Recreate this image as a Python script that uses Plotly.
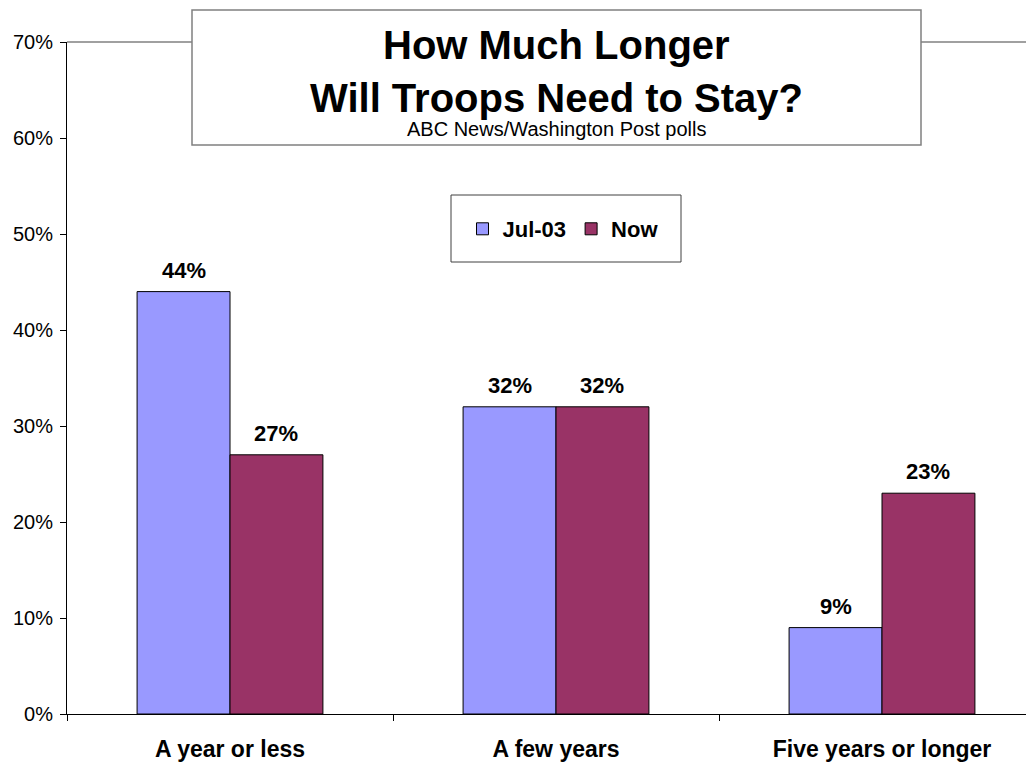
import plotly.graph_objects as go

categories = ["A year or less", "A few years", "Five years or longer"]
series_names = ["Jul-03", "Now"]
jul03_values = [0.44, 0.32, 0.09]
now_values = [0.27, 0.32, 0.23]
y_tick_values = [0, 0.1, 0.2, 0.3, 0.4, 0.5, 0.6, 0.7]
title_line1 = "How Much Longer"
title_line2 = "Will Troops Need to Stay?"
subtitle = "ABC News/Washington Post polls"

colors = ["#9999FF", "#993366"]
FONT = "Liberation Sans, Arial, sans-serif"

# page body offset of 8px is compensated: screen coords -> figure coords
OFF = 8
W, H = 1034 - OFF, 762 - OFF
L, R, T, B = 67 - OFF, 0, 42 - OFF, 762 - 714
pw = W - L - R
ph = H - T - B
CAT_W = 326.0
BAR_GAP = 0.43
bar_w = CAT_W * (1 - BAR_GAP) / 2


def px(x):
    return (x - OFF - L) / pw


def py(y):
    return (H - B - (y - OFF)) / ph


fig = go.Figure()
all_series = [jul03_values, now_values]
for name, vals, col in zip(series_names, all_series, colors):
    fig.add_trace(go.Bar(
        x=categories, y=vals, name=f"<b>{name}</b>",
        marker=dict(color=col, line=dict(color="black", width=1)),
    ))

annotations = []
for si, vals in enumerate(all_series):
    shift = (si - 0.5) * bar_w
    for cat, v in zip(categories, vals):
        annotations.append(dict(
            x=cat, y=v, xref="x", yref="y", text=f"<b>{v*100:.0f}%</b>",
            showarrow=False, xanchor="center", yanchor="bottom",
            xshift=shift, yshift=7,
            font=dict(family=FONT, size=22, color="black")))

annotations += [
    dict(text=f"<b>{title_line1}</b>", xref="paper", yref="paper", x=px(556), y=py(45),
         xanchor="center", yanchor="middle", showarrow=False,
         font=dict(family=FONT, size=40, color="black")),
    dict(text=f"<b>{title_line2}</b>", xref="paper", yref="paper", x=px(556), y=py(98),
         xanchor="center", yanchor="middle", showarrow=False,
         font=dict(family=FONT, size=40, color="black")),
    dict(text=subtitle, xref="paper", yref="paper", x=px(556), y=py(129),
         xanchor="center", yanchor="middle", showarrow=False,
         font=dict(family=FONT, size=20, color="black")),
]

fig.update_layout(
    width=W, height=H,
    margin=dict(l=L, r=R, t=T, b=B, autoexpand=False),
    paper_bgcolor="white", plot_bgcolor="white",
    barmode="group", bargap=BAR_GAP, bargroupgap=0,
    font=dict(family=FONT, color="black"),
    showlegend=True,
    legend=dict(orientation="h", x=px(563), y=py(229), xanchor="center", yanchor="middle",
                font=dict(family=FONT, size=22, color="black"),
                bgcolor="rgba(0,0,0,0)", borderwidth=0,
                traceorder="normal"),
    xaxis=dict(
        type="category", range=[-0.5, -0.5 + pw / CAT_W],
        showline=True, linecolor="black", linewidth=1,
        ticks="outside", tickson="boundaries", ticklen=6, tickcolor="black",
        tickfont=dict(family=FONT, size=23, color="black"),
        ticklabelstandoff=14, showgrid=False, zeroline=False,
        tickprefix="<b>", ticksuffix="</b>",
    ),
    yaxis=dict(
        range=[0, 0.7], tickvals=y_tick_values, tickformat=".0%",
        showline=True, linecolor="black", linewidth=1,
        ticks="outside", ticklen=6, tickcolor="black",
        tickfont=dict(family=FONT, size=20, color="black"),
        ticklabelstandoff=3,
        showgrid=False, zeroline=False,
    ),
    shapes=[
        dict(type="line", xref="paper", yref="paper", x0=0, x1=1, y0=1, y1=1,
             line=dict(color="#808080", width=1.5), layer="above"),
        dict(type="rect", xref="paper", yref="paper",
             x0=px(192), x1=px(921), y0=py(145), y1=py(10),
             fillcolor="white", line=dict(color="#808080", width=1.5), layer="above"),
        dict(type="rect", xref="paper", yref="paper",
             x0=px(451), x1=px(681), y0=py(262), y1=py(195),
             fillcolor="rgba(0,0,0,0)", line=dict(color="#404040", width=1), layer="above"),
    ],
    annotations=annotations,
)

fig.write_html("out.html")
